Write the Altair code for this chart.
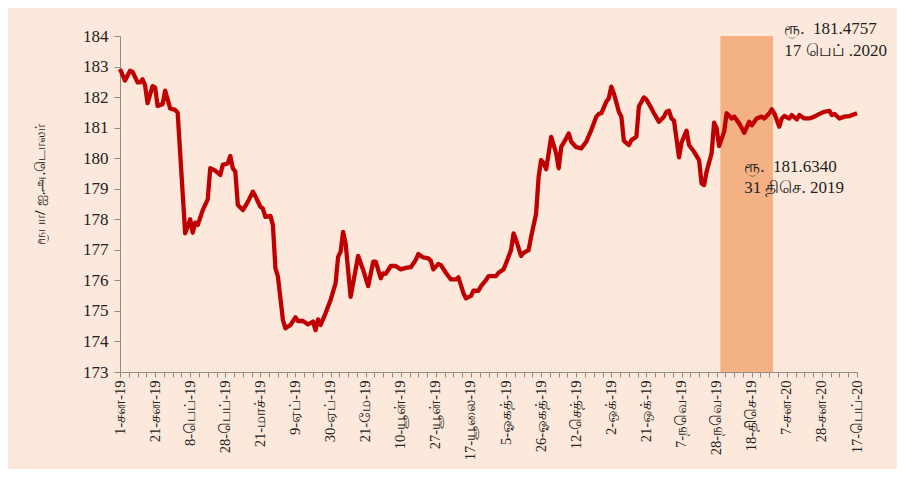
import altair as alt
import pandas as pd

# trading-day index (0 = 1 Jan 2019) and Rs/USD rate
days = [0, 2, 4, 5, 7, 8, 9, 10, 11, 13, 14, 15, 17, 18, 20, 22, 23, 26, 27, 28, 29, 30, 31, 33, 35, 36,
        38, 40, 41, 43, 44, 45, 46, 47, 49, 51, 53, 54, 56, 57, 58, 60, 61, 62, 63, 65, 66, 68, 70, 71, 73,
        75, 77, 78, 79, 80, 82, 84, 86, 87, 88, 89, 90, 92, 95, 97, 99, 101, 102, 104, 105, 106, 108, 110,
        112, 114, 116, 118, 119, 121, 123, 124, 125, 127, 128, 130, 132, 134, 135, 137, 138, 140, 141, 143,
        144, 146, 147, 150, 151, 153, 154, 156, 157, 158, 160, 161, 163, 164, 166, 167, 168, 169, 170, 171,
        172, 174, 175, 176, 178, 179, 180, 182, 184, 186, 188, 190, 191, 192, 194, 195, 196, 197, 199, 200,
        201, 203, 204, 206, 207, 209, 210, 212, 213, 215, 217, 218, 219, 220, 221, 223, 224, 226, 227, 229,
        231, 232, 233, 234, 236, 237, 238, 239, 241, 242, 244, 245, 247, 249, 251, 252, 254, 256, 257, 259,
        260, 261, 263, 264, 265, 267, 268, 270, 271, 273, 275, 277, 279, 281, 283, 284, 285, 287, 289, 291, 294]
rates = [182.92, 182.54, 182.86, 182.83, 182.48, 182.48, 182.58, 182.39, 181.80, 182.36, 182.32, 181.71,
         181.77, 182.21, 181.63, 181.58, 181.49, 177.54, 177.76, 178.00, 177.56, 177.89, 177.81, 178.30,
         178.65, 179.67, 179.59, 179.45, 179.78, 179.83, 180.07, 179.67, 179.56, 178.47, 178.30, 178.57,
         178.90, 178.76, 178.41, 178.35, 178.08, 178.11, 177.81, 176.39, 176.12, 174.70, 174.43, 174.54,
         174.79, 174.67, 174.67, 174.56, 174.65, 174.37, 174.72, 174.54, 174.92, 175.36, 175.90, 176.77,
         176.94, 177.59, 177.21, 175.46, 176.80, 176.34, 175.81, 176.61, 176.61, 176.07, 176.23, 176.21,
         176.47, 176.47, 176.36, 176.41, 176.43, 176.67, 176.86, 176.75, 176.72, 176.64, 176.36, 176.54,
         176.50, 176.25, 176.03, 176.03, 176.10, 175.58, 175.41, 175.49, 175.66, 175.66, 175.81, 176.01,
         176.14, 176.14, 176.25, 176.36, 176.56, 176.99, 177.54, 177.32, 176.80, 176.90, 176.99, 177.43,
         178.19, 179.39, 179.94, 179.83, 179.64, 180.16, 180.70, 180.16, 179.67, 180.37, 180.65, 180.81,
         180.54, 180.36, 180.32, 180.54, 180.92, 181.36, 181.45, 181.47, 181.85, 181.96, 182.34, 182.12,
         181.52, 181.36, 180.57, 180.43, 180.59, 180.70, 181.69, 181.99, 181.92, 181.63, 181.47, 181.19,
         181.36, 181.52, 181.55, 181.30, 181.23, 180.03, 180.51, 180.90, 180.43, 180.21, 179.94, 179.17,
         179.12, 179.56, 180.16, 181.16, 180.98, 180.40, 180.87, 181.47, 181.30, 181.36, 181.14, 180.83,
         181.19, 181.08, 181.30, 181.36, 181.30, 181.47, 181.60, 181.47, 181.03, 181.30, 181.38, 181.30,
         181.41, 181.27, 181.41, 181.30, 181.30, 181.36, 181.45, 181.52, 181.55, 181.41, 181.45, 181.30,
         181.36, 181.38, 181.47]

tick_labels = ["1-சன-19", "21-சன-19", "8-பெப்-19", "28-பெப்-19", "21-மாச்-19", "9-ஏப்-19",
               "30-ஏப்-19", "21-மே-19", "10-யூன்-19", "27-யூன்-19", "17-யூலை-19", "5-ஓகத்-19",
               "26-ஓகத்-19", "12-செத்-19", "2-ஒக்-19", "21-ஒக்-19", "7-நவெ-19", "28-நவெ-19",
               "18-திசெ-19", "7-சன-20", "28-சன-20", "17-பெப்-20"]
label_step = 14

band_start = [239.5]
band_end = [260.5]

ann_x = [265, 265, 249, 249]
ann_y = [184.22, 183.52, 179.71, 179.02]
ann_text = ["ரூ.\u00a0 181.4757", "17 பெப் .2020", "ரூ.\u00a0 181.6340", "31 திசெ. 2019"]

df = pd.DataFrame({"day": days, "rate": rates})
band = pd.DataFrame({"x": band_start, "x2": band_end, "y": [173], "y2": [184]})
ann = pd.DataFrame({"x": ann_x, "y": ann_y, "t": ann_text})

FONT = "Liberation Serif"
arr = "[" + ",".join("'" + s + "'" for s in tick_labels) + "]"
label_expr = f"datum.value % {label_step} == 0 ? {arr}[datum.value / {label_step}] : ''"

xscale = alt.Scale(domain=[0, 294], nice=False, zero=False)
yscale = alt.Scale(domain=[173, 184], nice=False, zero=False)

xaxis = alt.Axis(values=[i * 3.5 for i in range(85)], labelExpr=label_expr, labelAngle=270,
                 labelAlign="right", labelBaseline="middle", labelFont=FONT, labelFontSize=14.5,
                 labelColor="#222222", tickColor="#8c8c8c", domainColor="#8c8c8c", tickSize=5,
                 labelPadding=3, grid=False, title=None, labelOverlap=False, labelBound=False)
yaxis = alt.Axis(values=list(range(173, 185)), labelFont=FONT, labelFontSize=17, labelColor="#222222",
                 tickColor="#8c8c8c", domainColor="#8c8c8c", tickSize=6, labelPadding=6, grid=False,
                 labelOverlap=False, labelBound=False,
                 title="ரூபா/  ஐ.அ.டொலர்", titleFont="Noto Sans", titleFontSize=14,
                 titleFontWeight="normal", titleColor="#222222", titleX=-73, titleY=148)

rect = alt.Chart(band).mark_rect(color="#F4B183").encode(
    x=alt.X("x:Q", scale=xscale, axis=xaxis), x2="x2:Q",
    y=alt.Y("y:Q", scale=yscale, axis=yaxis), y2="y2:Q")

line = alt.Chart(df).mark_line(color="#C00000", strokeWidth=4.3, strokeJoin="round").encode(
    x=alt.X("day:Q", scale=xscale, axis=xaxis), y=alt.Y("rate:Q", scale=yscale, axis=yaxis))

text = alt.Chart(ann).mark_text(align="left", baseline="middle", font=FONT, fontSize=17,
                                color="#222222").encode(
    x=alt.X("x:Q", scale=xscale, axis=xaxis), y=alt.Y("y:Q", scale=yscale, axis=yaxis), text="t:N")

chart = alt.layer(rect, line, text).properties(
    width=737, height=336, background="#FDE9DB",
    padding={"left": 112, "top": 28, "right": 40, "bottom": 97},
    autosize=alt.AutoSizeParams(type="none"),
).configure_view(stroke=None)

chart.save("out.html", embed_options={"renderer": "svg", "actions": False})
